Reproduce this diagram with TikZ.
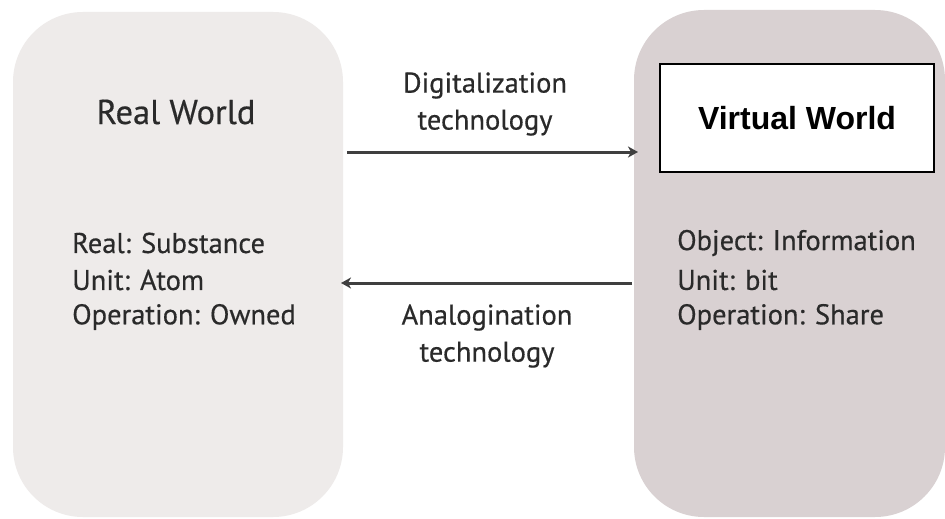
\documentclass[tikz,border=0pt]{standalone}
\usepackage{fontspec}
\setmainfont{PT Sans}
\newfontfamily\bodyfont{PT Sans}[FakeBold=0.45]
\newfontfamily\arialfont{Liberation Sans}
\usetikzlibrary{arrows.meta}
\definecolor{leftfill}{HTML}{EEEBEA}
\definecolor{rightfill}{HTML}{D9D1D2}
\definecolor{txt}{HTML}{2A2A2A}
\definecolor{arr}{HTML}{3F3F3F}
\tikzset{
  world/.style={rounded corners=70pt, draw=none},
  body/.style={text=txt, font=\bodyfont\fontsize{28.5}{37}\selectfont, align=left, inner sep=0pt, anchor=west},
  lab/.style={text=txt, font=\bodyfont\fontsize{28.5}{37}\selectfont, align=center, inner sep=0pt},
  conn/.style={draw=arr, line width=3pt, -{Stealth[length=10pt,width=11pt,inset=3pt]}},
}
\begin{document}
\begin{tikzpicture}[x=1pt,y=-1pt]
\useasboundingbox (0,0) rectangle (945,519);
\fill[white] (0,0) rectangle (945,519);
% worlds
\fill[leftfill, world] (13,12) rectangle (343,517);
\fill[rightfill, world] (634,10) rectangle (945,517);
% titles
\node[text=txt, font=\bodyfont\fontsize{34.5}{40}\selectfont, inner sep=0pt] (rw) at (176,112) {Real World};
\node[draw=black, line width=2.8pt, fill=white, minimum width=274pt, minimum height=108pt, inner sep=0pt,
      font=\arialfont\bfseries\fontsize{32}{38}\selectfont] (vw) at (797,118) {Virtual World};
% bodies
\node[body] (lb1) at (72,243) {Real: Substance};
\node[body] (lb2) at (72,280) {Unit: Atom};
\node[body] (lb3) at (72,317) {Operation: Owned};
\node[body] (rb1) at (677,243) {Object: Information};
\node[body] (rb2) at (677,280) {Unit: bit};
\node[body] (rb3) at (677,317) {Operation: Share};
% arrows
\coordinate (a1s) at (347,152);
\coordinate (a1e) at (638,152);
\coordinate (a2s) at (632,283);
\coordinate (a2e) at (341,283);
\draw[conn] (a1s) -- (a1e);
\draw[conn] (a2s) -- (a2e);
\node[lab] (dl) at (485,104) {Digitalization\\technology};
\node[lab] (al) at (487,336) {Analogination\\technology};
\end{tikzpicture}
\end{document}
